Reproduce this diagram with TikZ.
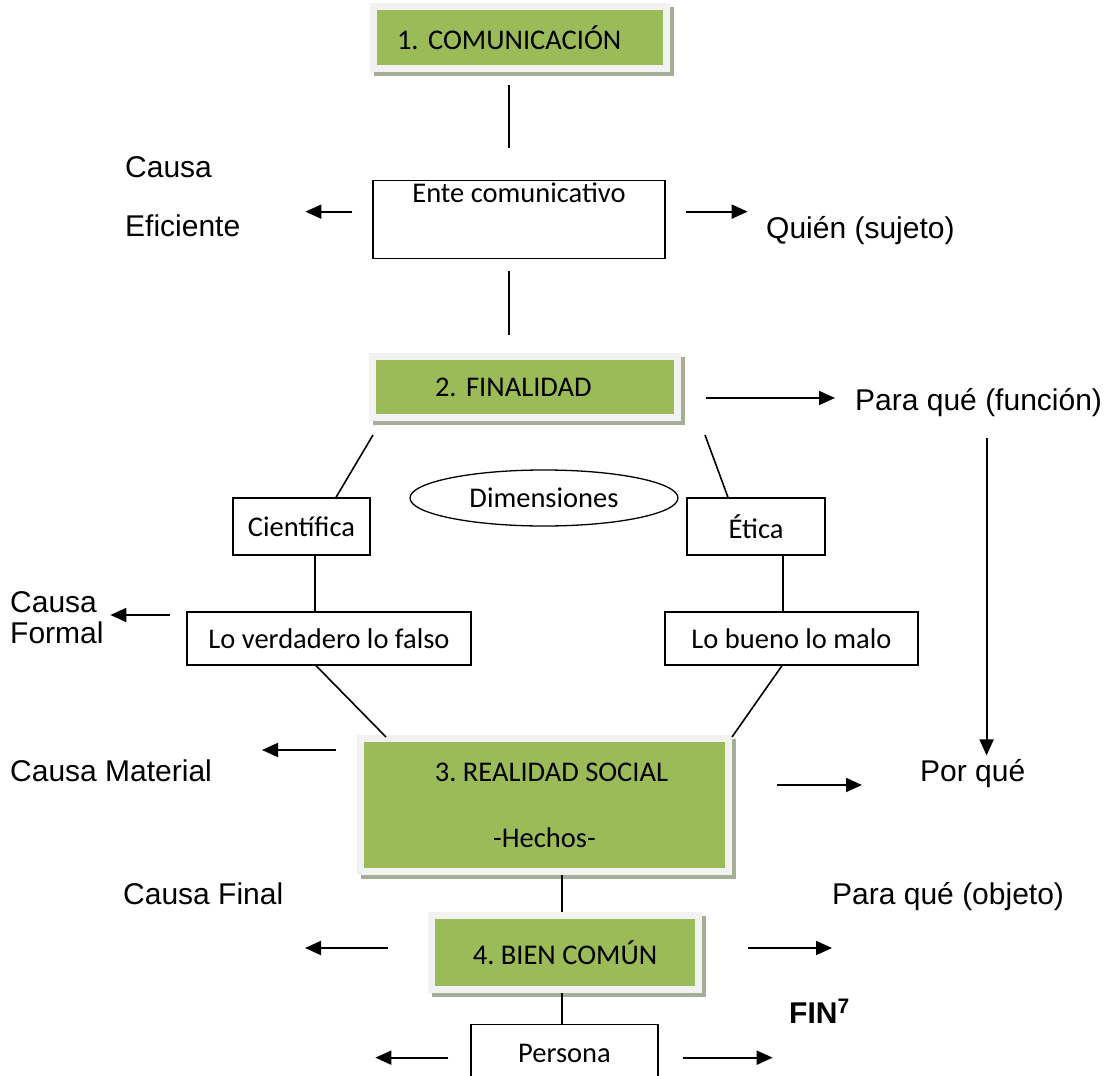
\documentclass[tikz,border=0pt]{standalone}
\usepackage{fontspec}
\setmainfont{Liberation Sans}
\newfontfamily\calibri{Carlito}
\usetikzlibrary{arrows.meta,shapes.geometric,shadows}
\definecolor{olivegreen}{HTML}{9BBB59}
\definecolor{framegray}{HTML}{F2F2F2}
\definecolor{shadowgreen}{HTML}{A7AE98}
\frenchspacing

\begin{document}
\begin{tikzpicture}[
  x=1pt, y=-1pt, line cap=butt,
  link/.style ={line width=1.6pt},
  arr/.style  ={line width=1.8pt, -{Triangle[length=16pt,width=14pt]}},
  boxtxt/.style={font=\calibri\fontsize{28.5}{33}\selectfont},
  greenbox/.style={boxtxt, fill=olivegreen, draw=framegray, line width=7pt,
    inner sep=0pt,
    general shadow={fill=shadowgreen, draw=shadowgreen, line width=7pt,
      shadow xshift=4pt, shadow yshift=-4pt}},
  whitebox/.style={boxtxt, draw, line width=1.3pt, inner sep=0pt},
  lab/.style={inner sep=0pt, anchor=base west, align=left,
    font=\fontsize{30}{31}\selectfont}
]
\useasboundingbox (0,0) rectangle (1117,1076);

% --- boxes ----------------------------------------------------------
\node[greenbox, minimum width=293pt, minimum height=62pt,
      text width=246pt, inner xsep=23.5pt, align=left]
      (com) at (520,37.5) {1. COMUNICACIÓN};
\node[whitebox, anchor=north, minimum width=292pt,
      text height=22pt, text depth=56pt]
      (ente) at (519,180) {Ente comunicativo};
\node[greenbox, minimum width=305pt, minimum height=61pt,
      text width=180pt, inner xsep=62.5pt, align=left]
      (fin) at (525,387) {2. FINALIDAD};

\node[whitebox, minimum width=137pt, minimum height=57pt]
      (cien) at (301.5,526.5) {Científica};
\node[whitebox, minimum width=138pt, minimum height=57pt]
      (etica) at (756,526.5) {Ética};
\node[boxtxt, draw, line width=1.3pt, ellipse, inner sep=0pt,
      minimum width=268pt, minimum height=56pt]
      (dim) at (544,498) {Dimensiones};
\node[whitebox, minimum width=284pt, minimum height=53pt]
      (verd) at (329,638.5) {Lo verdadero lo falso};
\node[whitebox, minimum width=253pt, minimum height=53pt]
      (bueno) at (791.5,638.5) {Lo bueno lo malo};

\node[greenbox, minimum width=368pt, minimum height=133pt, align=center]
      (real) at (544.5,805) {\hspace*{14pt}3. REALIDAD SOCIAL\\[33pt]-Hechos-};
\node[greenbox, minimum width=267pt, minimum height=74pt]
      (bien) at (565,952.5) {4. BIEN COMÚN};
\node[whitebox, anchor=north, minimum width=187pt,
      text height=38pt, text depth=42pt]
      (pers) at (564.5,1024) {Persona};

% --- labels (base = last line) --------------------------------------
\node[lab] (causaEf)  at (125,236) {Causa\\[28pt]Eficiente};
\node[lab] (quien)    at (766,238) {Quién (sujeto)};
\node[lab] (paraFun)  at (855,410) {Para qué (función)};
\node[lab] (formal)   at (10,643)  {Causa\\Formal};
\node[lab] (material) at (10,781)  {Causa Material};
\node[lab] (porQue)   at (920,781) {Por qué};
\node[lab] (final)    at (123,904) {Causa Final};
\node[lab] (paraObj)  at (832,904) {Para qué (objeto)};
\node[lab] (finEnd)   at (789,1023) {\textbf{FIN\textsuperscript{7}}};

% --- plain links ----------------------------------------------------
\draw[link, shorten <=13pt, shorten >=32pt]
  ([xshift=-11pt]com.south) -- ([xshift=-10pt]ente.north);
\draw[link, shorten <=12pt, shorten >=18pt]
  ([xshift=-10pt]ente.south) -- ([xshift=-16pt]fin.north);
\draw[link] ([shift={(4pt,-14pt)}]fin.south west) -- ([xshift=34.5pt]cien.north);
\draw[link] ([shift={(24pt,-14pt)}]fin.south east) -- ([xshift=-28pt]etica.north);
\draw[link] ([xshift=13.5pt]cien.south) -- ([xshift=-14pt]verd.north);
\draw[link] ([xshift=27pt]etica.south) -- ([xshift=-8.5pt]bueno.north);
\draw[link] ([xshift=-13pt]verd.south) -- ([shift={(29pt,-2pt)}]real.north west);
\draw[link] ([xshift=-9.5pt]bueno.south) -- ([yshift=-2pt]real.north east);
\draw[link] ([xshift=17.5pt]real.south) -- ([xshift=-3pt]bien.north);
\draw[link] ([xshift=-3pt]bien.south) -- ([xshift=-2.5pt]pers.north);

% --- arrows ---------------------------------------------------------
\draw[arr, shorten <=20pt] ([yshift=8pt]ente.west) -- +(-67pt,0);
\draw[arr, shorten <=20pt] ([yshift=8pt]ente.east) -- +(82pt,0);
\draw[arr, shorten <=25pt] ([yshift=-11pt]fin.east) -- +(154pt,0);
\draw[arr] ([xshift=8pt,yshift=-22pt]paraFun.south) -- +(0,-317pt);
\draw[arr, shorten <=16pt] ([yshift=23.5pt]verd.west) -- +(-76pt,0);
\draw[arr, shorten <=21pt] ([yshift=55pt]real.west) -- +(-95pt,0);
\draw[arr, shorten <=45pt] ([yshift=20pt]real.east) -- +(130pt,0);
\draw[arr, shorten <=40pt] ([yshift=4.5pt]bien.west) -- +(-123pt,0);
\draw[arr, shorten <=46pt] ([yshift=4.5pt]bien.east) -- +(130pt,0);
\draw[arr, shorten <=22pt] ([yshift=7pt]pers.west) -- +(-95pt,0);
\draw[arr, shorten <=24pt] ([yshift=7pt]pers.east) -- +(114pt,0);

\end{tikzpicture}
\end{document}
